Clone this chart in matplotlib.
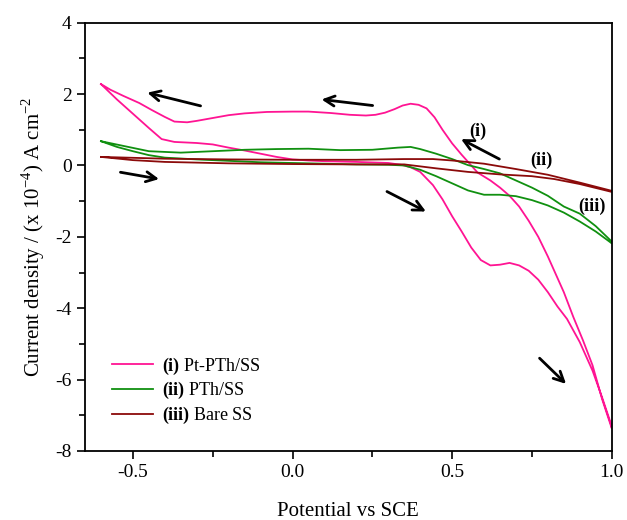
import matplotlib
matplotlib.use("Agg")
import matplotlib.pyplot as plt
from matplotlib.ticker import MultipleLocator

plt.rcParams["font.family"] = ["Liberation Serif", "DejaVu Serif"]
plt.rcParams["mathtext.fontset"] = "custom"
plt.rcParams["mathtext.rm"] = "Liberation Serif"
plt.rcParams["mathtext.bf"] = "Liberation Serif:bold"
plt.rcParams["axes.unicode_minus"] = False

# (i) Pt-PTh/SS : forward sweep then reverse sweep
pt_fwd_x = [-0.60, -0.55, -0.50, -0.45, -0.41, -0.37, -0.30, -0.25, -0.20, -0.15, -0.10,
            -0.05, 0.00, 0.05, 0.10, 0.20, 0.30, 0.34, 0.37, 0.40, 0.44, 0.47, 0.50,
            0.53, 0.56, 0.59, 0.62, 0.65, 0.68, 0.71, 0.74, 0.77, 0.80, 0.83, 0.86,
            0.90, 0.94, 0.97, 1.00]
pt_fwd_y = [2.28, 1.85, 1.45, 1.05, 0.74, 0.66, 0.63, 0.59, 0.50, 0.42, 0.33,
            0.24, 0.17, 0.14, 0.12, 0.10, 0.07, 0.02, -0.05, -0.18, -0.55, -0.95, -1.42,
            -1.85, -2.30, -2.65, -2.80, -2.78, -2.73, -2.80, -2.95, -3.20, -3.55, -3.95, -4.30,
            -4.95, -5.75, -6.50, -7.30]
pt_rev_x = [1.00, 0.97, 0.94, 0.91, 0.88, 0.85, 0.82, 0.80, 0.77, 0.74, 0.71, 0.68,
            0.65, 0.62, 0.58, 0.555, 0.53, 0.50, 0.47, 0.445, 0.42, 0.395, 0.37, 0.345,
            0.32, 0.29, 0.26, 0.23, 0.18, 0.12, 0.05, 0.00, -0.08, -0.15, -0.20, -0.25,
            -0.30, -0.33, -0.37, -0.40, -0.44, -0.48, -0.53, -0.57, -0.60]
pt_rev_y = [-7.36, -6.55, -5.60, -4.90, -4.25, -3.55, -2.95, -2.55, -2.00, -1.55, -1.15, -0.85,
            -0.62, -0.42, -0.20, 0.05, 0.30, 0.62, 1.00, 1.35, 1.60, 1.70, 1.73, 1.68,
            1.58, 1.48, 1.42, 1.40, 1.42, 1.47, 1.51, 1.51, 1.50, 1.46, 1.41, 1.33,
            1.25, 1.21, 1.23, 1.36, 1.55, 1.75, 1.95, 2.12, 2.28]

# (ii) PTh/SS
pth_fwd_x = [-0.60, -0.55, -0.50, -0.45, -0.40, -0.30, -0.20, -0.10, 0.00, 0.10, 0.20,
             0.30, 0.35, 0.40, 0.45, 0.50, 0.55, 0.60, 0.65, 0.70, 0.75, 0.80, 0.85,
             0.90, 0.95, 1.00]
pth_fwd_y = [0.68, 0.52, 0.40, 0.29, 0.22, 0.17, 0.13, 0.09, 0.07, 0.05, 0.03,
             0.02, 0.00, -0.12, -0.30, -0.50, -0.70, -0.82, -0.82, -0.86, -0.97, -1.12, -1.32,
             -1.57, -1.85, -2.18]
pth_rev_x = [1.00, 0.95, 0.90, 0.85, 0.80, 0.75, 0.70, 0.65, 0.60, 0.55, 0.50, 0.45,
             0.40, 0.37, 0.33, 0.25, 0.15, 0.05, -0.05, -0.15, -0.25, -0.35, -0.45,
             -0.52, -0.60]
pth_rev_y = [-2.13, -1.70, -1.35, -1.15, -0.85, -0.62, -0.42, -0.22, -0.10, 0.01, 0.18, 0.33,
             0.46, 0.52, 0.50, 0.44, 0.43, 0.47, 0.46, 0.44, 0.40, 0.36, 0.40,
             0.53, 0.68]

# (iii) Bare SS
ss_fwd_x = [-0.60, -0.50, -0.40, -0.20, 0.00, 0.20, 0.35, 0.45, 0.55, 0.65, 0.75, 0.82, 0.90, 1.00]
ss_fwd_y = [0.24, 0.15, 0.10, 0.06, 0.04, 0.03, 0.03, -0.08, -0.18, -0.25, -0.30, -0.38, -0.52, -0.74]
ss_rev_x = [1.00, 0.90, 0.80, 0.70, 0.60, 0.50, 0.44, 0.35, 0.20, 0.00, -0.20, -0.40, -0.60]
ss_rev_y = [-0.71, -0.48, -0.26, -0.10, 0.05, 0.14, 0.18, 0.18, 0.16, 0.16, 0.17, 0.19, 0.24]

# sweep-direction arrows: (tail x, tail y, head x, head y)
arrows = [(-0.288, 1.67, -0.455, 2.04),
          (-0.539, -0.19, -0.418, -0.38),
          (0.251, 1.68, 0.091, 1.85),
          (0.648, 0.18, 0.528, 0.74),
          (0.296, -0.73, 0.418, -1.29),
          (0.774, -5.40, 0.857, -6.12)]
curve_tags = [("(i)", 0.582, 0.95), ("(ii)", 0.779, 0.15), ("(iii)", 0.939, -1.15)]

fig = plt.figure(figsize=(6.27, 5.2), dpi=100)
ax = fig.add_axes([0.1356, 0.1327, 0.84, 0.8236])

ax.plot(pt_fwd_x + pt_rev_x, pt_fwd_y + pt_rev_y, color="#ff1493", lw=1.3,
        label=r"$\mathbf{(i)}$ Pt-PTh/SS")
ax.plot(pth_fwd_x + pth_rev_x, pth_fwd_y + pth_rev_y, color="#109010", lw=1.3,
        label=r"$\mathbf{(ii)}$ PTh/SS")
ax.plot(ss_fwd_x + ss_rev_x, ss_fwd_y + ss_rev_y, color="#8b0a0a", lw=1.3,
        label=r"$\mathbf{(iii)}$ Bare SS")

for x0, y0, x1, y1 in arrows:
    ax.annotate("", xy=(x1, y1), xytext=(x0, y0),
                arrowprops=dict(arrowstyle="->", color="black", lw=2,
                                mutation_scale=18, shrinkA=0, shrinkB=0))

for txt, tx, ty in curve_tags:
    ax.text(tx, ty, txt, fontsize=13, fontweight="bold", ha="center", va="center")

ax.set_xlim(-0.65, 1.0)
ax.set_ylim(-8, 4)
ax.xaxis.set_major_locator(MultipleLocator(0.5))
ax.xaxis.set_minor_locator(MultipleLocator(0.25))
ax.yaxis.set_major_locator(MultipleLocator(2))
ax.yaxis.set_minor_locator(MultipleLocator(1))
ax.tick_params(which="major", direction="out", length=6, width=1.2, labelsize=14)
ax.tick_params(which="minor", direction="out", length=4, width=1.2)
for sp in ax.spines.values():
    sp.set_linewidth(1.3)

ax.set_xlabel("Potential vs SCE", fontsize=15, labelpad=15)
ax.set_ylabel(r"Current density / (x 10$^{-4}$) A cm$^{-2}$", fontsize=15, labelpad=6)

ax.legend(loc="lower left", bbox_to_anchor=(0.02, 0.02), frameon=False, fontsize=13,
          handlelength=2.3, handletextpad=0.5, labelspacing=0.2)

fig.savefig("out.png", dpi=100)
